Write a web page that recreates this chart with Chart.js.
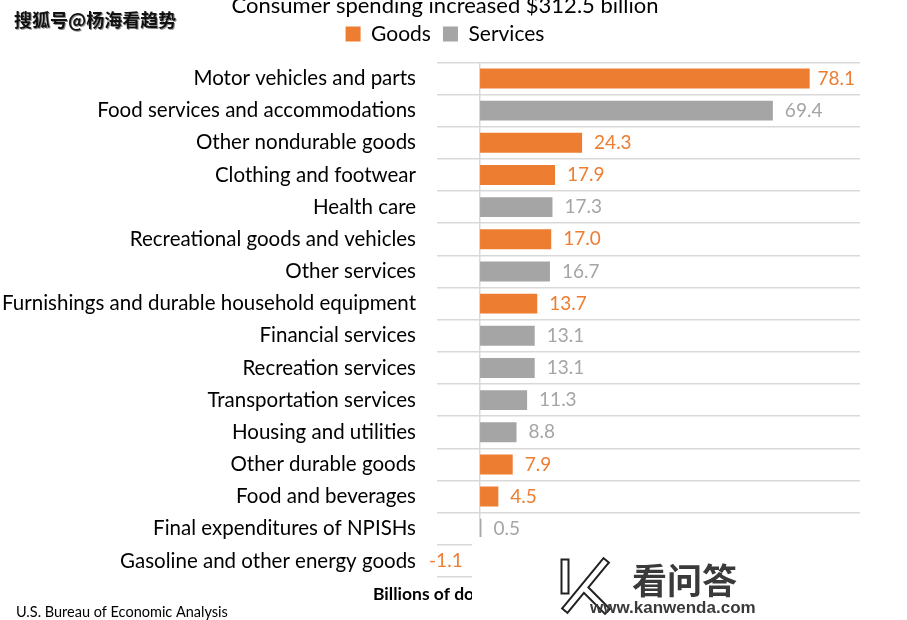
<!DOCTYPE html>
<html>
<head>
<meta charset="utf-8">
<script src="https://cdn.jsdelivr.net/npm/chart.js@4"></script>
<style>
  body { margin: 0; background: #fff; }
  canvas { display: block; }
</style>
</head>
<body>
<canvas id="chart" width="907" height="620"></canvas>
<script>
const categories = [
  'Motor vehicles and parts',
  'Food services and accommodations',
  'Other nondurable goods',
  'Clothing and footwear',
  'Health care',
  'Recreational goods and vehicles',
  'Other services',
  'Furnishings and durable household equipment',
  'Financial services',
  'Recreation services',
  'Transportation services',
  'Housing and utilities',
  'Other durable goods',
  'Food and beverages',
  'Final expenditures of NPISHs',
  'Gasoline and other energy goods',
];
const goodsValues = [78.1, null, 24.3, 17.9, null, 17.0, null, 13.7, null, null, null, null, 7.9, 4.5, null, -1.1];
const servicesValues = [null, 69.4, null, null, 17.3, null, 16.7, null, 13.1, 13.1, 11.3, 8.8, null, null, 0.5, null];

const ORANGE = '#ED7D31';
const GRAY = '#A5A5A5';
const FONT = 'Lato, "Noto Sans", sans-serif';

Chart.defaults.font.family = FONT;
Chart.defaults.color = '#000';

// title + legend sit centred over the whole picture, legend is tucked up under the title
const centerShift = {
  id: 'centerShift',
  afterLayout(chart) {
    [chart.titleBlock, chart.legend].forEach((box) => {
      if (!box) return;
      box.left += 15;
      box.right += 15;
    });
    chart.legend.top -= 8;
    chart.legend.bottom -= 8;
  },
};

const valueLabels = {
  id: 'valueLabels',
  afterDatasetsDraw(chart) {
    const { ctx, chartArea } = chart;
    ctx.save();
    ctx.font = '19px ' + FONT;
    ctx.textBaseline = 'middle';
    chart.data.datasets.forEach((ds, i) => {
      chart.getDatasetMeta(i).data.forEach((bar, j) => {
        const v = ds.data[j];
        if (v === null) return;
        const txt = v.toFixed(1);
        ctx.fillStyle = ds.backgroundColor;
        if (v < 0) {
          ctx.textAlign = 'right';
          ctx.fillText(txt, bar.x - 12, bar.y);
        } else {
          const w = ctx.measureText(txt).width;
          const x = Math.min(bar.x + 12, chartArea.right - 5 - w);
          ctx.textAlign = 'left';
          ctx.fillText(txt, x, bar.y);
        }
      });
    });
    ctx.restore();
  },
};

const extras = {
  id: 'extras',
  afterDraw(chart) {
    const ctx = chart.ctx;
    ctx.save();
    ctx.textBaseline = 'middle';
    ctx.textAlign = 'left';

    ctx.fillStyle = '#000';
    ctx.font = 'bold 17.5px ' + FONT;
    ctx.fillText('Billions of dollars', 373, 594);

    // white patch under the site logo
    ctx.fillStyle = '#fff';
    ctx.fillRect(472, 537, 435, 83);

    ctx.fillStyle = '#000';
    ctx.font = '14.5px ' + FONT;
    ctx.fillText('U.S. Bureau of Economic Analysis', 16, 612);

    // logo mark: outlined K
    ctx.lineCap = 'square';
    ctx.lineJoin = 'miter';
    const k = () => {
      ctx.beginPath();
      ctx.moveTo(565, 563);
      ctx.lineTo(565, 590);
      ctx.moveTo(604, 563);
      ctx.lineTo(567, 608);
      ctx.moveTo(587, 591);
      ctx.lineTo(605, 609);
      ctx.stroke();
    };
    ctx.strokeStyle = '#222';
    ctx.lineWidth = 9;
    k();
    ctx.strokeStyle = '#fff';
    ctx.lineWidth = 5;
    k();

    ctx.fillStyle = '#3a3a3a';
    ctx.font = 'bold 35px "Noto Sans CJK SC"';
    ctx.fillText('看问答', 632, 581);
    ctx.font = 'bold 17px "Liberation Sans"';
    ctx.fillText('www.kanwenda.com', 590, 608);

    // top-left watermark
    ctx.font = 'bold 18px "Noto Sans CJK SC"';
    ctx.lineWidth = 3;
    ctx.strokeStyle = '#fff';
    ctx.strokeText('搜狐号@杨海看趋势', 14, 20);
    ctx.shadowColor = 'rgba(0,0,0,0.45)';
    ctx.shadowOffsetX = 1;
    ctx.shadowOffsetY = 1;
    ctx.fillStyle = '#111';
    ctx.fillText('搜狐号@杨海看趋势', 14, 20);
    ctx.restore();
  },
};

new Chart(document.getElementById('chart'), {
  type: 'bar',
  data: {
    labels: categories,
    datasets: [
      {
        label: 'Goods',
        data: goodsValues,
        backgroundColor: ORANGE,
        skipNull: true,
        barPercentage: 0.62,
        categoryPercentage: 1,
      },
      {
        label: 'Services',
        data: servicesValues,
        backgroundColor: GRAY,
        skipNull: true,
        barPercentage: 0.62,
        categoryPercentage: 1,
      },
    ],
  },
  options: {
    indexAxis: 'y',
    responsive: false,
    animation: false,
    layout: {
      padding: { top: 0, right: 47, bottom: 43, left: 0 },
    },
    plugins: {
      title: {
        display: true,
        text: 'Consumer spending increased $312.5 billion',
        font: { size: 22, weight: 'normal' },
        color: '#000',
        padding: { top: -7, bottom: 0 },
      },
      legend: {
        labels: {
          boxWidth: 15,
          boxHeight: 15,
          padding: 12,
          font: { size: 21 },
          color: '#000',
        },
      },
      tooltip: { enabled: false },
    },
    scales: {
      x: {
        min: -10,
        max: 90,
        ticks: { display: false },
        border: { display: false },
        grid: {
          drawTicks: false,
          lineWidth: 1.5,
          color: (c) => (c.tick && c.tick.value === 0 ? '#d9d9d9' : 'rgba(0,0,0,0)'),
        },
      },
      y: {
        border: { display: false },
        grid: { offset: true, drawTicks: false, color: '#d9d9d9', lineWidth: 1.5 },
        ticks: { padding: 21, color: '#000', font: { size: 20.5 } },
        afterFit(scale) {
          scale.width = 437;
        },
      },
    },
  },
  plugins: [centerShift, valueLabels, extras],
});
</script>
</body>
</html>
